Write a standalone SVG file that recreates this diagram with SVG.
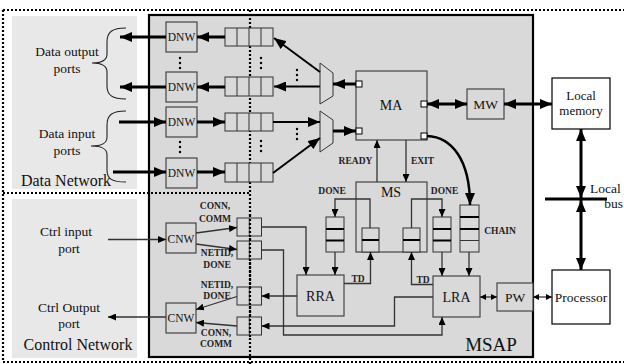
<svg xmlns="http://www.w3.org/2000/svg" width="624" height="364" viewBox="0 0 624 364">
<style>
text{font-family:'Liberation Serif','Times New Roman',Tinos,'DejaVu Serif',serif}
.dot{fill:none;stroke:#000;stroke-width:2.2;stroke-dasharray:2 2}
.bx{fill:#d9d9d9;stroke:#444;stroke-width:1.2}
.wb{fill:#fff;stroke:#000;stroke-width:1.2}
.q{fill:#d9d9d9;stroke:#333;stroke-width:1}
.qd{stroke:#000;stroke-width:2}
.qt{stroke:#333;stroke-width:1}
.t{fill:#111;text-anchor:middle}
.s{font-weight:bold;font-size:9.5px;fill:#222;text-anchor:middle}
.thick{fill:none;stroke:#000;stroke-width:3}
.med{fill:none;stroke:#000;stroke-width:2}
.thin{fill:none;stroke:#333;stroke-width:1.3}
.brace{fill:none;stroke:#222;stroke-width:1.1}
</style>
<defs>
<marker id="big" viewBox="0 0 12 10" refX="12" refY="5" markerWidth="12" markerHeight="10" markerUnits="userSpaceOnUse" orient="auto-start-reverse"><path d="M0,0 L12,5 L0,10 z" fill="#000"/></marker>
<marker id="sm" viewBox="0 0 8 7" refX="8" refY="3.5" markerWidth="8" markerHeight="7" markerUnits="userSpaceOnUse" orient="auto-start-reverse"><path d="M0,0 L8,3.5 L0,7 z" fill="#000"/></marker>
<marker id="tn" viewBox="0 0 6 6" refX="6" refY="3" markerWidth="6" markerHeight="6" markerUnits="userSpaceOnUse" orient="auto-start-reverse"><path d="M0,0 L6,3 L0,6 z" fill="#000"/></marker>
</defs>

<!-- backgrounds -->
<g id="data-network-area"><rect x="12" y="16" width="125" height="173" fill="#e8e8e8"/></g>
<g id="control-network-area"><rect x="12" y="199" width="125" height="159" fill="#e8e8e8"/></g>
<g id="msap"><rect x="149" y="15" width="384" height="342" fill="#d9d9d9" stroke="#000" stroke-width="2.2"/>
<text class="t" x="491" y="351" font-size="19">MSAP</text></g>

<!-- dotted frame -->
<g id="frame">
<path class="dot" d="M3,10 H624"/>
<path class="dot" d="M3,10 V362"/>
<path class="dot" d="M3,362 H624"/>
<path class="dot" d="M3,193 H250"/>
<path class="dot" d="M250,10 V364"/>
</g>

<!-- left labels -->
<g id="labels-left">
<text class="t" x="67" y="56" font-size="13.5">Data output</text>
<text class="t" x="67" y="73" font-size="13.5">ports</text>
<text class="t" x="67" y="138" font-size="13.5">Data input</text>
<text class="t" x="67" y="155" font-size="13.5">ports</text>
<text class="t" x="66" y="186" font-size="16">Data Network</text>
<text class="t" x="66" y="236" font-size="13.5">Ctrl input</text>
<text class="t" x="69" y="253" font-size="13.5">port</text>
<text class="t" x="69" y="312" font-size="13.5">Ctrl Output</text>
<text class="t" x="69" y="328" font-size="13.5">port</text>
<text class="t" x="78" y="350" font-size="16">Control Network</text>
<path class="brace" d="M126,28 C112,28 107,32 107,42 V54 C107,60 103,63 92,63 C103,63 107,66 107,72 V86 C107,95 112,99 126,99"/>
<path class="brace" d="M126,111 C112,111 107,115 107,125 V137 C107,143 103,146 91,146 C103,146 107,149 107,155 V170 C107,179 112,182 126,182"/>
</g>

<!-- DNW nodes -->
<g id="dnw1"><rect class="bx" x="166" y="22" width="31" height="30"/><text class="t" x="181.5" y="41" font-size="11.5">DNW</text></g>
<g id="dnw2"><rect class="bx" x="166" y="72" width="31" height="30"/><text class="t" x="181.5" y="91" font-size="11.5">DNW</text></g>
<g id="dnw3"><rect class="bx" x="166" y="107" width="31" height="30"/><text class="t" x="181.5" y="126" font-size="11.5">DNW</text></g>
<g id="dnw4"><rect class="bx" x="166" y="158" width="31" height="30"/><text class="t" x="181.5" y="177" font-size="11.5">DNW</text></g>

<!-- data queues -->
<g id="dq1"><rect class="q" x="225" y="28" width="48" height="18"/><path class="qt" d="M237,28V46M249,28V46M261,28V46"/></g>
<g id="dq2"><rect class="q" x="225" y="77" width="48" height="19"/><path class="qt" d="M237,77V96M249,77V96M261,77V96"/></g>
<g id="dq3"><rect class="q" x="225" y="113" width="48" height="18"/><path class="qt" d="M237,113V131M249,113V131M261,113V131"/></g>
<g id="dq4"><rect class="q" x="225" y="163" width="48" height="19"/><path class="qt" d="M237,163V182M249,163V182M261,163V182"/></g>

<!-- dots -->
<g id="ellipses" fill="#000">
<circle cx="180" cy="58" r="1.2"/><circle cx="180" cy="63" r="1.2"/><circle cx="180" cy="68" r="1.2"/>
<circle cx="180" cy="142" r="1.2"/><circle cx="180" cy="147" r="1.2"/><circle cx="180" cy="152" r="1.2"/>
<circle cx="261" cy="58" r="1.2"/><circle cx="261" cy="63" r="1.2"/><circle cx="261" cy="68" r="1.2"/>
<circle cx="261" cy="141" r="1.2"/><circle cx="261" cy="146" r="1.2"/><circle cx="261" cy="151" r="1.2"/>
<circle cx="297" cy="70" r="1.2"/><circle cx="297" cy="75" r="1.2"/><circle cx="297" cy="80" r="1.2"/>
<circle cx="297" cy="129" r="1.2"/><circle cx="297" cy="134" r="1.2"/><circle cx="297" cy="139" r="1.2"/>
</g>

<!-- muxes -->
<g id="mux-out"><polygon points="320,63 333,73 333,96 320,104" fill="#d9d9d9" stroke="#333" stroke-width="1"/></g>
<g id="mux-in"><polygon points="320,111 333,120 333,143 320,152" fill="#d9d9d9" stroke="#333" stroke-width="1"/></g>

<!-- MA -->
<g id="ma"><rect class="bx" x="356" y="71" width="71" height="69"/><text class="t" x="391" y="110" font-size="14">MA</text>
<rect x="356" y="81" width="6" height="6" fill="#fff" stroke="#000" stroke-width="1"/>
<rect x="356" y="128" width="6" height="6" fill="#fff" stroke="#000" stroke-width="1"/>
<rect x="421" y="101" width="6" height="6" fill="#fff" stroke="#000" stroke-width="1"/>
<rect x="421" y="133" width="6" height="6" fill="#fff" stroke="#000" stroke-width="1"/></g>

<g id="mw"><rect class="bx" x="467" y="89" width="37" height="30"/><text class="t" x="485.5" y="109" font-size="13.5">MW</text></g>
<g id="local-memory"><rect class="wb" x="552" y="78" width="58" height="51"/><text class="t" x="581" y="100" font-size="13">Local</text><text class="t" x="581" y="115" font-size="13">memory</text></g>
<g id="processor"><rect class="wb" x="552" y="270" width="58" height="54"/><text class="t" x="581" y="302" font-size="13.5">Processor</text></g>
<g id="local-bus"><path d="M545,199 H607" stroke="#000" stroke-width="3"/><text x="590" y="193" font-size="13.5" fill="#111">Local</text><text x="623" y="208" font-size="13.5" fill="#111" text-anchor="end">bus</text></g>

<!-- MS -->
<g id="ms"><rect class="bx" x="356" y="182" width="71" height="70"/><text class="t" x="391" y="197" font-size="14">MS</text>
<rect class="q" x="362" y="228" width="17" height="24"/><path class="qd" d="M362,240H379"/>
<rect class="q" x="403" y="228" width="17" height="24"/><path class="qd" d="M403,240H420"/></g>

<g id="done-q-left"><rect class="q" x="326" y="217" width="18" height="35"/><path class="qd" d="M326,229H344M326,240.5H344"/></g>
<g id="done-q-right"><rect class="q" x="433" y="217" width="18" height="35"/><path class="qd" d="M433,229H451M433,240.5H451"/></g>
<g id="chain-q"><rect class="q" x="460" y="205" width="19" height="47"/><path class="qd" d="M460,217H479M460,229H479"/><path class="qt" d="M460,240.5H479"/></g>

<g id="rra"><rect class="bx" x="297" y="275" width="47" height="41"/><text class="t" x="320.5" y="301" font-size="14">RRA</text></g>
<g id="lra"><rect class="bx" x="433" y="276" width="47" height="41"/><text class="t" x="456.5" y="302" font-size="14">LRA</text></g>
<g id="pw"><rect class="bx" x="497" y="283" width="36" height="28"/><text class="t" x="515" y="302" font-size="13.5">PW</text></g>

<!-- CNW -->
<g id="cnw1"><rect class="bx" x="166" y="223" width="30" height="30"/><text class="t" x="181" y="242.5" font-size="11.5">CNW</text></g>
<g id="cnw2"><rect class="bx" x="166" y="303" width="30" height="30"/><text class="t" x="181" y="322" font-size="11.5">CNW</text></g>

<!-- control queues -->
<g id="cq1"><rect class="q" x="237" y="218" width="24.5" height="18"/><path class="qt" d="M249.3,218V236"/></g>
<g id="cq2"><rect class="q" x="237" y="241" width="24.5" height="18"/><path class="qt" d="M249.3,241V259"/></g>
<g id="cq3"><rect class="q" x="237" y="287" width="24.5" height="18"/><path class="qt" d="M249.3,287V305"/></g>
<g id="cq4"><rect class="q" x="237" y="317" width="24.5" height="18"/><path class="qt" d="M249.3,317V335"/></g>
<path class="dot" d="M250,215V340" stroke-width="2"/>

<!-- signal labels -->
<g id="signal-labels">
<text class="s" x="215" y="209">CONN,</text><text class="s" x="215" y="221.5">COMM</text>
<text class="s" x="217" y="256">NETID,</text><text class="s" x="217" y="267.5">DONE</text>
<text class="s" x="217" y="287.5">NETID,</text><text class="s" x="217" y="298.5">DONE</text>
<text class="s" x="216" y="336">CONN,</text><text class="s" x="216" y="347">COMM</text>
<text class="s" x="355.5" y="164">READY</text><text class="s" x="422.5" y="164">EXIT</text>
<text class="s" x="332" y="194">DONE</text><text class="s" x="444.5" y="194">DONE</text>
<text class="s" x="500" y="234">CHAIN</text>
<text class="s" x="358" y="281.5">TD</text><text class="s" x="423" y="283">TD</text>
</g>

<!-- connectors -->
<g id="connectors">
<path class="thick" d="M225,37H197" marker-end="url(#big)"/>
<path class="thick" d="M166,37H120" marker-end="url(#big)"/>
<path class="thick" d="M225,87H197" marker-end="url(#big)"/>
<path class="thick" d="M166,87H120" marker-end="url(#big)"/>
<path class="thick" d="M119,122H166" marker-end="url(#big)"/>
<path class="thick" d="M197,122H225" marker-end="url(#big)"/>
<path class="thick" d="M113,172H166" marker-end="url(#big)"/>
<path class="thick" d="M197,172H225" marker-end="url(#big)"/>
<path class="med" d="M320,72L274,38" marker-end="url(#big)"/>
<path class="med" d="M320,86.5H274" marker-end="url(#big)"/>
<path class="med" d="M273,122H320" marker-end="url(#big)"/>
<path class="med" d="M273,173L320,138" marker-end="url(#big)"/>
<path class="thick" d="M356,84H333" marker-end="url(#big)"/>
<path class="thick" d="M333,131H356" marker-end="url(#big)"/>
<path class="thick" d="M427,104H467" marker-start="url(#big)" marker-end="url(#big)"/>
<path class="thick" d="M504,104H552" marker-start="url(#big)" marker-end="url(#big)"/>
<path class="thick" d="M581,129V198" marker-start="url(#big)" marker-end="url(#big)"/>
<path class="thick" d="M581,200V270" marker-start="url(#big)" marker-end="url(#big)"/>
<path fill="none" stroke="#000" stroke-width="2.5" d="M427,136C452,137 470,160 470,205" marker-end="url(#big)"/>
<path class="thin" d="M377,182V140" marker-end="url(#sm)"/>
<path class="thin" d="M406,140V182" marker-end="url(#sm)"/>
<path class="thin" d="M370,228V199H335V217" marker-end="url(#sm)"/>
<path class="thin" d="M411.5,228V199H442V217" marker-end="url(#sm)"/>
<path class="thin" d="M335,252V275" marker-end="url(#sm)"/>
<path class="thin" d="M442,252V276" marker-end="url(#sm)"/>
<path class="thin" d="M469,252V276" marker-end="url(#sm)"/>
<path class="thin" d="M344,283.5H370.5V252" marker-end="url(#sm)"/>
<path class="thin" d="M433,284.5H411.5V252" marker-end="url(#sm)"/>
<path class="thin" d="M261.5,227H306V275" marker-end="url(#sm)"/>
<path class="thin" d="M261.5,250H283.5V335H442V317" marker-end="url(#sm)"/>
<path class="thin" d="M297,296H261.5" marker-end="url(#sm)"/>
<path class="thin" d="M433,297H394.5V326H261.5" marker-end="url(#sm)"/>
<path class="thin" d="M480,297H497" marker-start="url(#tn)" marker-end="url(#tn)"/>
<path class="thin" d="M533,297H552" marker-start="url(#tn)" marker-end="url(#tn)"/>
<path class="thin" d="M108,239.5H166" marker-end="url(#sm)"/>
<path class="thin" d="M166,317H108" marker-end="url(#sm)"/>
<path class="thin" d="M196,233L237,227.5" marker-end="url(#sm)"/>
<path class="thin" d="M196,244L237,249.5" marker-end="url(#sm)"/>
<path class="thin" d="M237,296.5L196,309.5" marker-end="url(#sm)"/>
<path class="thin" d="M237,326L196,322.5" marker-end="url(#sm)"/>
</g>
</svg>
